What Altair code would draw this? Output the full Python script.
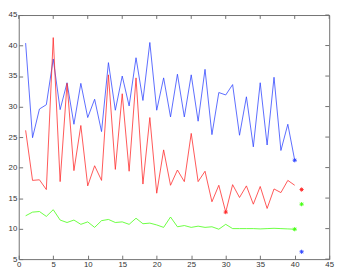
import altair as alt
import pandas as pd

x_vals = list(range(1, 41))
blue = [40.4, 24.9, 29.6, 30.3, 37.8, 29.5, 33.9, 27.1, 33.8, 28.2,
        31.2, 25.9, 37.2, 29.4, 35.0, 30.1, 38.0, 31.0, 40.5, 29.4,
        34.7, 28.3, 35.3, 28.3, 35.2, 27.6, 36.1, 25.4, 32.3, 31.9,
        33.6, 25.3, 31.6, 23.4, 33.9, 23.7, 34.8, 22.8, 27.1, 21.2]
red = [26.1, 17.9, 18.0, 16.4, 41.3, 17.7, 33.8, 19.5, 26.9, 17.0,
       20.3, 17.9, 35.2, 19.7, 32.1, 19.4, 34.7, 17.3, 28.2, 15.8,
       22.9, 17.1, 19.6, 17.7, 25.6, 17.7, 19.4, 14.4, 17.1, 12.7,
       17.2, 15.1, 17.0, 14.0, 16.9, 13.3, 16.5, 15.9, 17.9, 17.1]
green = [12.1, 12.7, 12.8, 12.0, 13.1, 11.4, 11.0, 11.4, 10.7, 11.1,
         10.2, 11.3, 11.5, 11.0, 11.1, 10.7, 11.7, 10.8, 10.9, 10.6,
         10.2, 11.9, 10.3, 10.5, 10.2, 10.4, 10.2, 10.3, 9.9, 10.7,
         10.0, 10.0, 10.0, 10.0, 9.95, 10.0, 10.05, 10.0, 9.95, 9.9]

series_names = ["blue", "red", "green"]
series_colors = ["#3046ff", "#ff2a2a", "#44ff10"]

marker_series = ["blue", "blue", "red", "red", "green", "green"]
marker_x = [40, 41, 30, 41, 40, 41]
marker_y = [21.2, 6.2, 12.7, 16.4, 9.9, 14.0]

x_ticks = [0, 5, 10, 15, 20, 25, 30, 35, 40, 45]
y_ticks = [5, 10, 15, 20, 25, 30, 35, 40, 45]

W = 318
H = 250

rows = []
for name, vals in zip(series_names, [blue, red, green]):
    for xv, yv in zip(x_vals, vals):
        rows.append({"series": name, "x": xv, "y": yv})
df = pd.DataFrame(rows)
mk = pd.DataFrame({"series": marker_series, "x": marker_x, "y": marker_y})
xt = pd.DataFrame({"t": x_ticks})
yt = pd.DataFrame({"t": y_ticks})

xscale = alt.Scale(domain=[0, 45], nice=False, zero=False)
yscale = alt.Scale(domain=[5, 45], nice=False, zero=False)
cscale = alt.Scale(domain=series_names, range=series_colors)

xaxis = alt.Axis(values=x_ticks, tickCount=10)
yaxis = alt.Axis(values=y_ticks, tickCount=9)

lines = alt.Chart(df).mark_line(strokeWidth=0.8).encode(
    x=alt.X("x:Q", scale=xscale, axis=xaxis),
    y=alt.Y("y:Q", scale=yscale, axis=yaxis),
    color=alt.Color("series:N", scale=cscale, legend=None),
)

star = "M-1,0L1,0M0,-1L0,1M-0.7,-0.7L0.7,0.7M-0.7,0.7L0.7,-0.7"
points = alt.Chart(mk).mark_point(shape=star, filled=False, size=18,
                                  strokeWidth=1, opacity=1).encode(
    x=alt.X("x:Q", scale=xscale, axis=xaxis),
    y=alt.Y("y:Q", scale=yscale, axis=yaxis),
    color=alt.Color("series:N", scale=cscale, legend=None),
)

top_ticks = alt.Chart(xt).mark_rule(color="#707070", strokeWidth=1).encode(
    x=alt.X("t:Q", scale=xscale, axis=xaxis),
    y=alt.value(0),
    y2=alt.value(4),
)
right_ticks = alt.Chart(yt).mark_rule(color="#707070", strokeWidth=1).encode(
    y=alt.Y("t:Q", scale=yscale, axis=yaxis),
    x=alt.value(W - 4),
    x2=alt.value(W),
)

chart = alt.layer(lines, points, top_ticks, right_ticks).properties(
    width=W, height=H,
    padding={"left": 0, "top": 0, "right": 4, "bottom": 0},
).configure_view(
    stroke="#707070", strokeWidth=1
).configure_axis(
    tickSize=4, offset=-4, domain=False, grid=False,
    tickColor="#707070", labelColor="#333333",
    labelFont="Liberation Sans", labelFontSize=8,
    labelPadding=2, title=None, labelOverlap=False,
    labelFlush=False, labelSeparation=0,
)

chart.save("out.html", embed_options={"renderer": "svg", "actions": False})
